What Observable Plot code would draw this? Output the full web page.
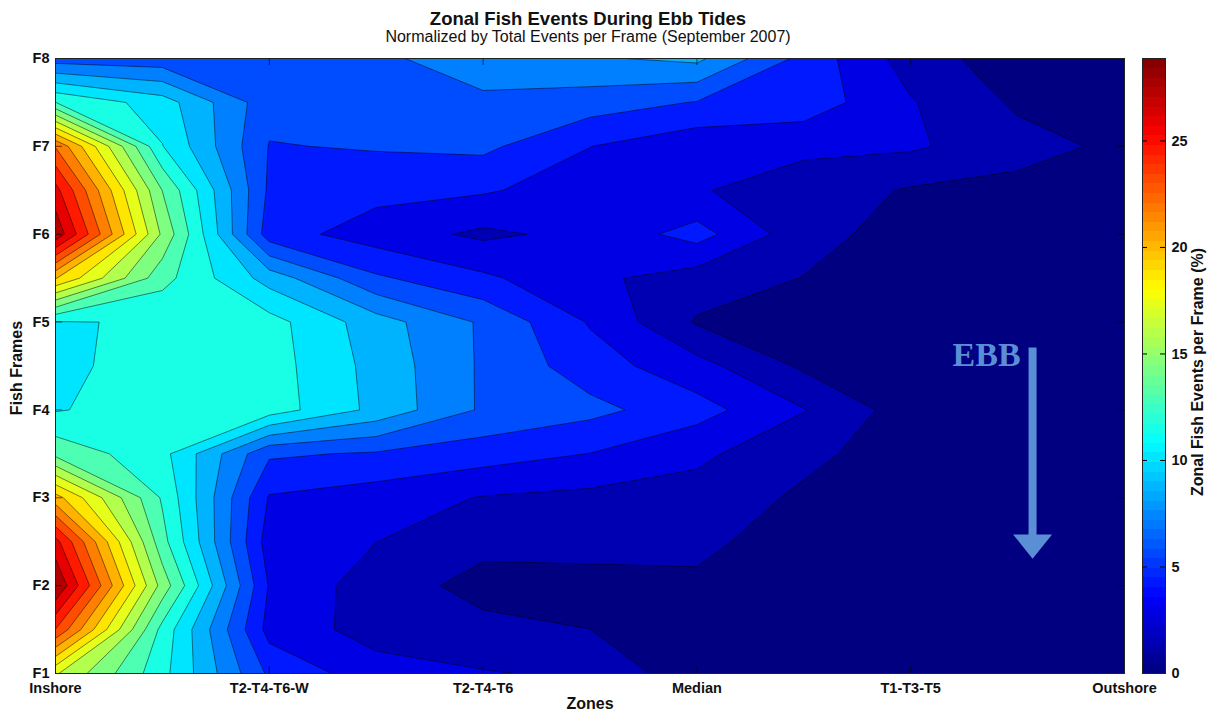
<!DOCTYPE html>
<html>
<head>
<meta charset="utf-8">
<script src="https://cdn.jsdelivr.net/npm/d3@7"></script>
<script src="https://cdn.jsdelivr.net/npm/@observablehq/plot@0.6"></script>
<style>
  body { margin: 0; background: #fff; }
  #wrap { position: relative; width: 1221px; height: 712px; font-family: "Liberation Sans", Arial, sans-serif; color: #111; }
  .abs { position: absolute; white-space: nowrap; line-height: 1; }
  #title { left: 588px; top: 10px; transform: translateX(-50%); font-weight: bold; font-size: 18.5px; }
  #subtitle { left: 588px; top: 29px; transform: translateX(-50%); font-size: 16px; }
  #xlabel { left: 590px; top: 704px; transform: translate(-50%, -50%); font-weight: bold; font-size: 16px; }
  #ylabel { left: 17px; top: 368px; transform: translate(-50%, -50%) rotate(-90deg); font-weight: bold; font-size: 16px; }
  #clabel { left: 1198px; top: 372px; transform: translate(-50%, -50%) rotate(-90deg); font-weight: bold; font-size: 16px; }
  #main { left: 0; top: 0; }
  #cbar { left: 1130px; top: 0; }
</style>
</head>
<body>
<div id="wrap">
  <div id="main" class="abs"></div>
  <div id="cbar" class="abs"></div>
  <div id="title" class="abs">Zonal Fish Events During Ebb Tides</div>
  <div id="subtitle" class="abs">Normalized by Total Events per Frame (September 2007)</div>
  <div id="xlabel" class="abs">Zones</div>
  <div id="ylabel" class="abs">Fish Frames</div>
  <div id="clabel" class="abs">Zonal Fish Events per Frame (%)</div>
</div>
<script>
// ---- categories and tick labels ----
const zones = ["Inshore", "T2-T4-T6-W", "T2-T4-T6", "Median", "T1-T3-T5", "Outshore"];
const frames = ["F1", "F2", "F3", "F4", "F5", "F6", "F7", "F8"];
const colorTicks = [0, 5, 10, 15, 20, 25];
const zMax = 28.87;      // colour limit (top of colour bar)
const levelCount = 20;   // number of filled contour bands

// ---- gridded values (% of events) ----
// columns: Inshore, (mid), T2-T4-T6-W, (mid), T2-T4-T6, (mid), Median, (mid), T1-T3-T5, (mid), Outshore
// rows: each frame and the half-step between frames
const rowF8   = [6.5, 6.3, 6.0, 7.0, 7.8, 8.5, 9.0, 5.3, 2.2, 0.6, 0.4];
const rowF7_5 = [13.0, 10.8, 6.3, 6.5, 7.0, 6.5, 5.7, 5.2, 3.0, 1.2, 0.6];
const rowF7   = [23.0, 11.6, 5.7, 5.9, 6.1, 4.35, 3.3, 3.2, 3.1, 2.0, 1.1];
const rowF6_5 = [26.5, 14.4, 5.5, 4.8, 4.5, 3.6, 3.0, 2.2, 1.3, 1.0, 0.6];
const rowF6   = [28.5, 15.6, 5.0, 3.6, 2.6, 3.3, 4.9, 2.0, 0.8, 0.5, 0.4];
const rowF5_5 = [20.3, 13.5, 9.5, 6.0, 4.6, 3.2, 2.2, 1.4, 0.6, 0.4, 0.3];
const rowF5   = [11.45, 11.69, 12.1, 9.3, 7.0, 4.2, 1.3, 0.8, 0.5, 0.4, 0.3];
const rowF4_5 = [11.3, 12.0, 12.2, 9.6, 7.0, 5.0, 3.4, 1.2, 0.6, 0.4, 0.3];
const rowF4   = [11.45, 12.2, 12.3, 9.7, 7.0, 6.2, 4.9, 2.95, 0.7, 0.4, 0.3];
const rowF3_5 = [14.0, 12.0, 6.0, 5.6, 5.0, 4.3, 3.2, 1.8, 0.7, 0.4, 0.3];
const rowF3   = [20.8, 12.8, 4.2, 3.6, 2.8, 2.5, 2.3, 1.2, 0.5, 0.3, 0.3];
const rowF2_5 = [26.5, 13.5, 3.6, 2.9, 1.8, 1.9, 1.7, 0.9, 0.4, 0.3, 0.3];
const rowF2   = [28.87, 15.3, 4.2, 2.1, 1.0, 1.0, 1.25, 0.5, 0.3, 0.3, 0.3];
const rowF1_5 = [24.5, 12.5, 3.8, 2.3, 1.8, 1.45, 0.7, 0.4, 0.3, 0.3, 0.3];
const rowF1   = [17.5, 12.0, 5.5, 3.5, 3.0, 2.6, 0.5, 0.4, 0.3, 0.3, 0.3];

// ---- annotation ----
const ebbLabel = [{x: 4.355, y: 4.62, text: "EBB"}];
const ebbShaft = [{x: 4.57, y1: 4.71, y2: 2.56}];
const ebbHead  = [{x: 4.57, y: 2.445}];
const ebbColor = "#5b8fd5";

// ---- build the raster (first row = F1 at the bottom) ----
const rows = [rowF1, rowF1_5, rowF2, rowF2_5, rowF3, rowF3_5, rowF4, rowF4_5,
              rowF5, rowF5_5, rowF6, rowF6_5, rowF7, rowF7_5, rowF8];
const nx = rowF1.length, ny = rows.length;
const values = rows.flat();
const thresholds = d3.range(levelCount + 1).map(i => i * zMax / levelCount);

// MATLAB "jet" colormap
function jet(t) {
  const c = v => Math.max(0, Math.min(1, v));
  const r = c(Math.min(4 * t - 1.5, -4 * t + 4.5));
  const g = c(Math.min(4 * t - 0.5, -4 * t + 3.5));
  const b = c(Math.min(4 * t + 0.5, -4 * t + 2.5));
  return `rgb(${Math.round(r * 255)},${Math.round(g * 255)},${Math.round(b * 255)})`;
}
const colorScale = {type: "linear", domain: [0, zMax], interpolate: jet};

// flat, downward-pointing triangle for the arrow head
const headSymbol = {
  draw(context, size) {
    const r = Math.sqrt(size / Math.PI);
    const h = r * 0.62;
    context.moveTo(-r, -h);
    context.lineTo(r, -h);
    context.lineTo(0, h);
    context.closePath();
  }
};

const font = "'Liberation Sans', Arial, sans-serif";
const W = 1221, H = 712, mL = 55, mR = 97, mT = 58, mB = 39;
const frameW = W - mL - mR, frameH = H - mT - mB;
const zoneIdx = zones.map((_, i) => i);
const frameIdx = frames.map((_, i) => i + 1);

const main = Plot.plot({
  width: W, height: H,
  marginLeft: mL, marginRight: mR, marginTop: mT, marginBottom: mB,
  x: {domain: [0, zones.length - 1]},
  y: {domain: [1, frames.length]},
  color: colorScale,
  style: {fontFamily: font, fontSize: "14.5px", fontWeight: "bold", color: "#111", background: "transparent"},
  marks: [
    Plot.contour(values, {
      width: nx, height: ny,
      x1: -0.25, x2: zones.length - 1 + 0.25,
      y1: 0.75, y2: frames.length + 0.25,
      fill: Plot.identity,
      thresholds,
      stroke: "#000", strokeWidth: 0.7, strokeOpacity: 0.7,
      clip: true
    }),
    // small inward ticks like the original axes box
    Plot.tickX(zoneIdx, {x: d => d, stroke: "#000", strokeOpacity: 0.6, insetBottom: frameH - 7}),
    Plot.tickX(zoneIdx, {x: d => d, stroke: "#000", strokeOpacity: 0.6, insetTop: frameH - 7}),
    Plot.tickY(frameIdx, {y: d => d, stroke: "#000", strokeOpacity: 0.6, insetRight: frameW - 7}),
    Plot.tickY(frameIdx, {y: d => d, stroke: "#000", strokeOpacity: 0.6, insetLeft: frameW - 7}),
    Plot.frame({stroke: "#222", strokeWidth: 1}),
    Plot.axisX(zoneIdx, {tickFormat: i => zones[i], tickSize: 0, tickPadding: 9, label: null}),
    Plot.axisY(frameIdx, {tickFormat: i => frames[i - 1], tickSize: 0, tickPadding: 6, label: null}),
    Plot.link(ebbShaft, {x1: "x", x2: "x", y1: "y1", y2: "y2", stroke: ebbColor, strokeWidth: 8}),
    Plot.dot(ebbHead, {x: "x", y: "y", r: 19.5, symbol: headSymbol, fill: ebbColor, stroke: "none"}),
    Plot.text(ebbLabel, {x: "x", y: "y", text: "text", fill: ebbColor, fontSize: 34, fontWeight: "bold",
      fontFamily: "'Liberation Serif', 'Times New Roman', serif", textAnchor: "middle", lineAnchor: "middle"})
  ]
});
document.getElementById("main").append(main);

const cbar = Plot.plot({
  width: 91, height: H,
  marginLeft: 12, marginRight: 56, marginTop: mT, marginBottom: mB,
  x: {domain: [0, 1], axis: null},
  y: {domain: [0, zMax]},
  color: colorScale,
  style: {fontFamily: font, fontSize: "14.5px", fontWeight: "bold", color: "#111", background: "transparent"},
  marks: [
    Plot.raster({fill: (x, y) => y, x1: 0, x2: 1, y1: 0, y2: zMax, width: 1, height: 64, imageRendering: "pixelated"}),
    Plot.tickY(colorTicks, {y: d => d, stroke: "#000", insetLeft: 18}),
    Plot.tickY(colorTicks, {y: d => d, stroke: "#000", insetRight: 18}),
    Plot.frame({stroke: "#222", strokeWidth: 1}),
    Plot.axisY(colorTicks, {anchor: "right", tickSize: 0, tickPadding: 6, label: null})
  ]
});
document.getElementById("cbar").append(cbar);
</script>
</body>
</html>
